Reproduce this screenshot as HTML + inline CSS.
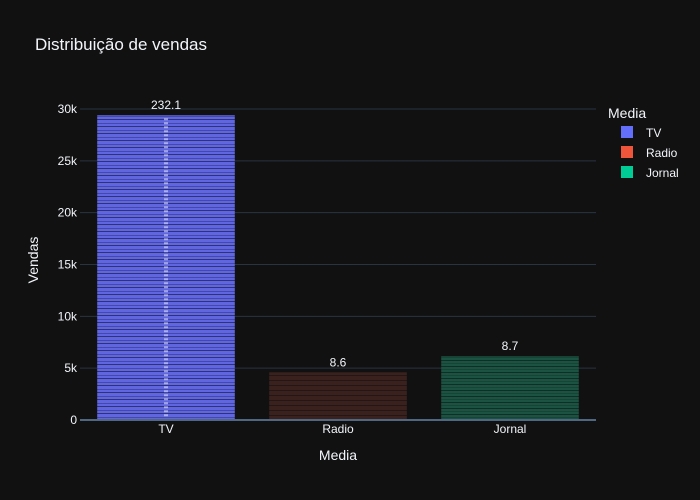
<!DOCTYPE html>
<html><head><meta charset="utf-8"><style>
body{margin:0;background:#111111;}
svg{display:block;font-family:"Liberation Sans",Arial,sans-serif;}
</style></head><body>
<svg id="chart" width="700" height="500">
<defs>
<pattern id="pTV" width="10" height="7" patternUnits="userSpaceOnUse">
<rect width="10" height="7" fill="#5f66e0"/><rect y="0" width="10" height="1" fill="#2e3278"/><rect y="4" width="10" height="1" fill="#4448a8"/>
</pattern>
<pattern id="pRadio" width="10" height="5" patternUnits="userSpaceOnUse">
<rect width="10" height="5" fill="#3a211d"/><rect width="10" height="1" fill="#241614"/>
</pattern>
<pattern id="pJornal" width="10" height="6" patternUnits="userSpaceOnUse">
<rect width="10" height="6" fill="#1b5242"/><rect width="10" height="1" fill="#0f2e26"/><rect y="3" width="10" height="1" fill="#164536"/>
</pattern>
</defs>
<rect width="700" height="500" fill="#111111"/>
<text x="35" y="50" fill="#f2f5fa" font-size="17">Distribuição de vendas</text>
<g id="grid"></g>
<g id="bars"></g>
<text transform="translate(38,260) rotate(-90)" text-anchor="middle" fill="#f2f5fa" font-size="14">Vendas</text>
<text x="338" y="460" text-anchor="middle" fill="#f2f5fa" font-size="14">Media</text>
<g id="legend">
<text x="608" y="118" fill="#f2f5fa" font-size="14">Media</text>
</g>
</svg>
<script>
const categories = ["TV","Radio","Jornal"];
const totals = [29400, 4600, 6150];
const topLabels = ["232.1","8.6","8.7"];
const yTicks = [0,5000,10000,15000,20000,25000,30000];
const yTickLabels = ["0","5k","10k","15k","20k","25k","30k"];
const colors = ["#636efa","#ef553b","#00cc96"];
const fills = ["url(#pTV)","url(#pRadio)","url(#pJornal)"];

const NS="http://www.w3.org/2000/svg";
const x0=80,x1=596,yBase=420,yTop=109,yMax=30000;
const band=(x1-x0)/categories.length;
const xC=i=>x0+band*(i+0.5);
const y=v=>yBase-(yBase-yTop)*v/yMax;
function mk(t,a,p){const e=document.createElementNS(NS,t);for(const k in a)e.setAttribute(k,a[k]);p.appendChild(e);return e;}
const grid=document.getElementById('grid');
yTicks.forEach((v,i)=>{
  const l=mk('line',{x1:x0,x2:x1,y1:y(v),y2:y(v),stroke:v===0?'#506784':'#283442','stroke-width':v===0?2:1},grid);
  
  
  const t=mk('text',{x:x0-3,y:y(v)+4,'text-anchor':'end',fill:'#f2f5fa','font-size':12},grid);
  t.textContent=yTickLabels[i];
  
  
});
const bars=document.getElementById('bars');
const bw=band*0.8;
categories.forEach((c,i)=>{
  const r=mk('rect',{x:xC(i)-bw/2,y:y(totals[i]),width:bw,height:yBase-1-y(totals[i]),fill:fills[i]},bars);
  
  
  if(i===0){
    const s=mk('line',{x1:xC(i),x2:xC(i),y1:y(totals[i])+3,y2:yBase-2,stroke:'#dde0ff','stroke-width':4,'stroke-dasharray':'2 2',opacity:0.6},bars);
    
    
  }
  const t=mk('text',{x:xC(i),y:y(totals[i])-6,'text-anchor':'middle',fill:'#f2f5fa','font-size':12},bars);
  t.textContent=topLabels[i];
  
  
  const xl=mk('text',{x:xC(i),y:yBase+13,'text-anchor':'middle',fill:'#f2f5fa','font-size':12},bars);
  xl.textContent=c;
  
  
});
const lg=document.getElementById('legend');
categories.forEach((c,i)=>{
  const g=mk('g',{},lg);
  
  
  mk('rect',{x:621,y:126+i*20,width:12,height:12,fill:colors[i]},g);
  const t=mk('text',{x:646,y:137+i*20,fill:'#f2f5fa','font-size':12},g);
  t.textContent=c;
});
</script>
</body></html>
